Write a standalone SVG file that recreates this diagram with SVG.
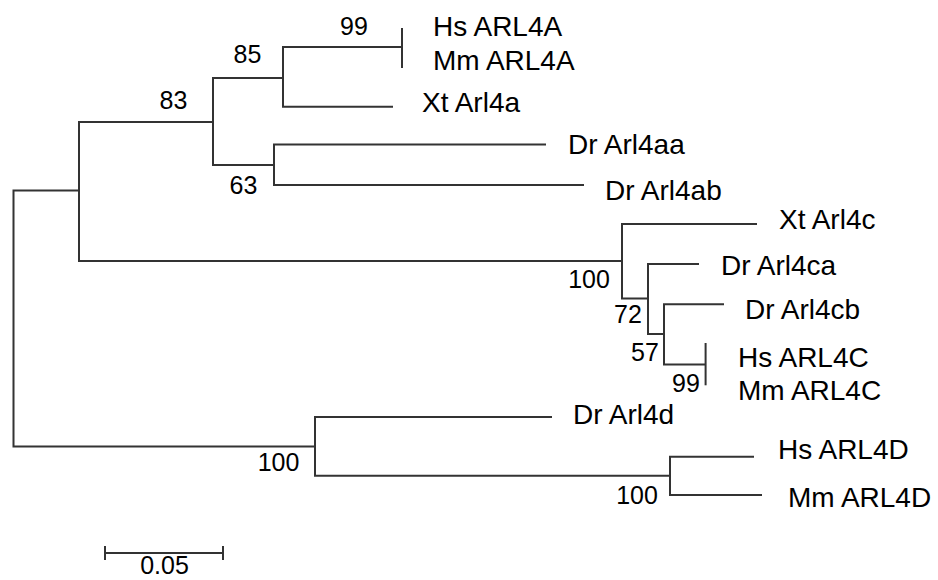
<svg xmlns="http://www.w3.org/2000/svg" width="938" height="580" viewBox="0 0 938 580">
<style>
.br{fill:none;stroke:#333;stroke-width:2;stroke-linecap:butt;stroke-linejoin:miter}
.lbl{font-family:"Liberation Sans",Arial,sans-serif;font-size:28px;fill:#000}
.bs{font-family:"Liberation Sans",Arial,sans-serif;font-size:25px;fill:#000;text-anchor:middle}
</style>
<rect width="938" height="580" fill="#fff"/>
<g id="connectors">
<path class="br" d="M79 190.5 H13.5 V446.5 H315"/>
<path class="br" d="M213 122 H79 V261 H622"/>
<path class="br" d="M283 78 H213 V165 H274"/>
<path class="br" d="M402 47 H283 V106.7 H393"/>
<path class="br" d="M402 28 V68"/>
<path class="br" d="M546 144.5 H274 V185 H584"/>
<path class="br" d="M757 224 H622 V298.5 H648"/>
<path class="br" d="M699 264 H648 V334 H664"/>
<path class="br" d="M724 304.3 H664 V364.4 H705.6"/>
<path class="br" d="M705.6 343 V385.3"/>
<path class="br" d="M552 417 H315 V475.7 H670"/>
<path class="br" d="M754 456.7 H670 V495 H762"/>
</g>
<g id="leaf-hs-arl4a"><text class="lbl" x="433" y="36">Hs ARL4A</text></g>
<g id="leaf-mm-arl4a"><text class="lbl" x="433" y="70">Mm ARL4A</text></g>
<g id="leaf-xt-arl4a"><text class="lbl" x="422" y="112">Xt Arl4a</text></g>
<g id="leaf-dr-arl4aa"><text class="lbl" x="568" y="154">Dr Arl4aa</text></g>
<g id="leaf-dr-arl4ab"><text class="lbl" x="605" y="200">Dr Arl4ab</text></g>
<g id="leaf-xt-arl4c"><text class="lbl" x="779" y="228.5">Xt Arl4c</text></g>
<g id="leaf-dr-arl4ca"><text class="lbl" x="721" y="275">Dr Arl4ca</text></g>
<g id="leaf-dr-arl4cb"><text class="lbl" x="745" y="319">Dr Arl4cb</text></g>
<g id="leaf-hs-arl4c"><text class="lbl" x="738" y="367">Hs ARL4C</text></g>
<g id="leaf-mm-arl4c"><text class="lbl" x="738" y="399.5">Mm ARL4C</text></g>
<g id="leaf-dr-arl4d"><text class="lbl" x="573" y="424">Dr Arl4d</text></g>
<g id="leaf-hs-arl4d"><text class="lbl" x="778" y="459">Hs ARL4D</text></g>
<g id="leaf-mm-arl4d"><text class="lbl" x="788" y="507">Mm ARL4D</text></g>
<g id="node-99a"><text class="bs" x="354" y="35">99</text></g>
<g id="node-85"><text class="bs" x="247.5" y="63">85</text></g>
<g id="node-83"><text class="bs" x="173.5" y="109">83</text></g>
<g id="node-63"><text class="bs" x="243.5" y="194">63</text></g>
<g id="node-100c"><text class="bs" x="589" y="288">100</text></g>
<g id="node-72"><text class="bs" x="628" y="322.5">72</text></g>
<g id="node-57"><text class="bs" x="645" y="361">57</text></g>
<g id="node-99c"><text class="bs" x="686" y="392">99</text></g>
<g id="node-100root"><text class="bs" x="278.5" y="470.7">100</text></g>
<g id="node-100d"><text class="bs" x="637" y="504">100</text></g>
<g id="scale-bar">
<path class="br" d="M105 553 H223 M105 546 V560 M223 546 V560"/>
<text class="bs" x="164.5" y="574">0.05</text>
</g>
</svg>
